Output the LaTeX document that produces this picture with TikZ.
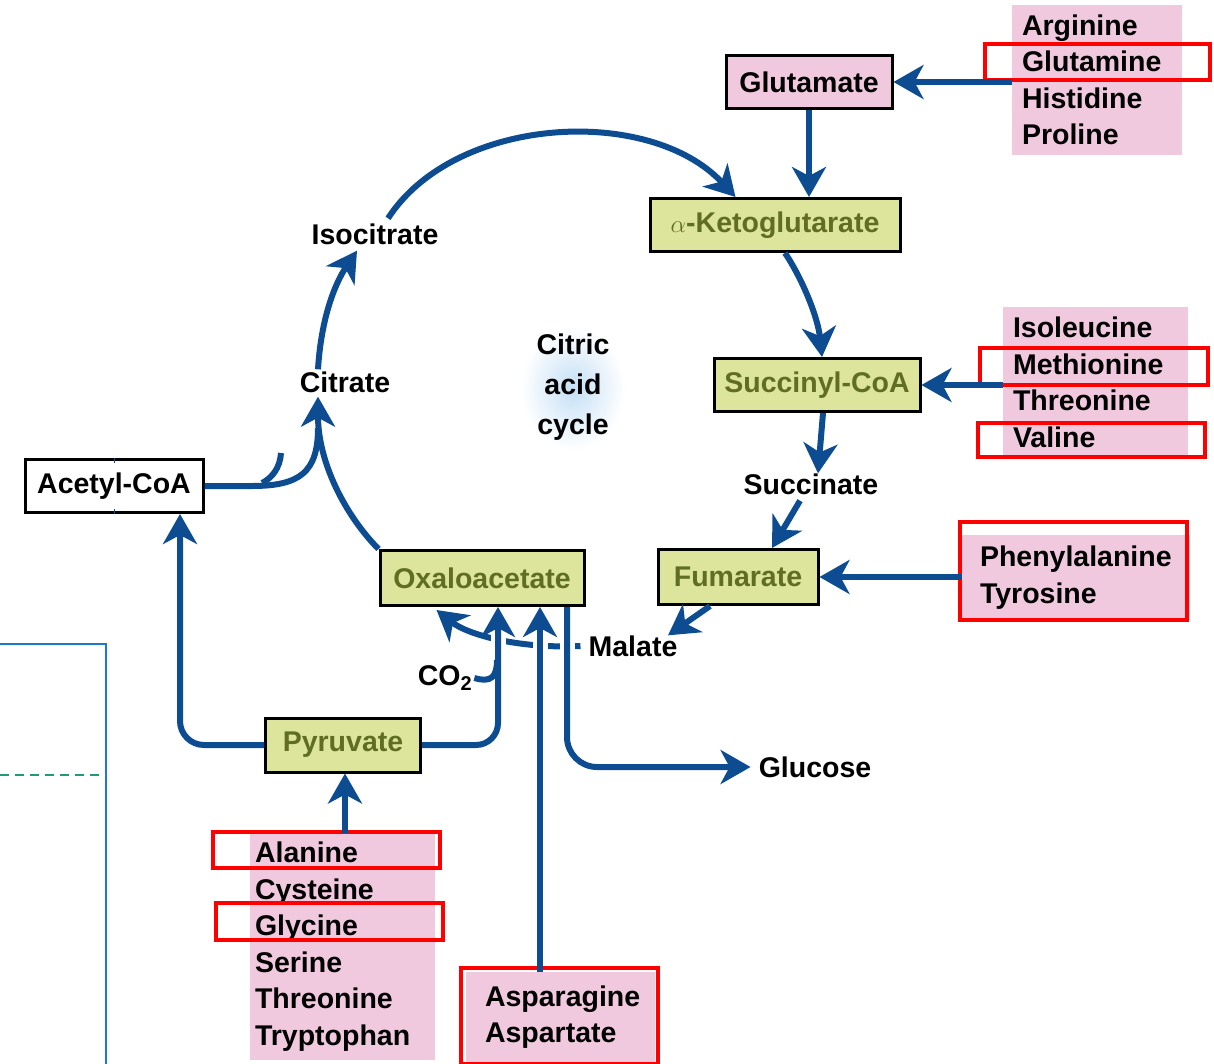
\documentclass[tikz,border=0pt]{standalone}
\usepackage{fontspec}
\setmainfont{Liberation Sans}
\usetikzlibrary{arrows.meta}
\definecolor{arr}{HTML}{0E4C92}
\definecolor{gfill}{HTML}{DDE49C}
\definecolor{gtext}{HTML}{5F6E22}
\definecolor{pfill}{HTML}{F0C9DE}
\definecolor{boxblue}{HTML}{1C7BC8}
\definecolor{dteal}{HTML}{1F9A7E}
\definecolor{glow}{HTML}{C4DFF5}
\tikzset{
  flow/.style={draw=arr, line width=6pt, -{Stealth[length=30pt,width=34pt,inset=9pt]}},
  plain/.style={draw=arr, line width=6pt},
  halo/.style={draw=white, line width=15pt},
  bigfont/.style={font=\bfseries\fontsize{28.5}{30}\selectfont},
  gbox/.style={bigfont, draw=black, line width=3pt, fill=gfill, text=gtext, inner sep=0pt},
  pbox/.style={bigfont, draw=black, line width=3pt, fill=pfill, text=black, inner sep=0pt},
  wbox/.style={bigfont, draw=black, line width=3pt, fill=white, text=black, inner sep=0pt},
  lbl/.style={bigfont, text=black, inner sep=2pt},
  aalist/.style={font=\bfseries\fontsize{28.5}{36.5}\selectfont, fill=pfill, align=left, inner ysep=0pt},
  redbox/.style={draw=red, line width=4pt},
}
\begin{document}
\begin{tikzpicture}[x=1pt,y=-1pt]
\useasboundingbox (0,0) rectangle (1214,1064);
\fill[white] (0,0) rectangle (1214,1064);

% left blue frame and dashed line
\draw[boxblue, line width=1.6pt] (0,644) -- (106,644) -- (106,1064);
\draw[dteal, line width=1.6pt, dash pattern=on 9pt off 6pt] (0,775) -- (106,775);

% glow
\shade[inner color=glow, outer color=white] (573,388) ellipse (52 and 62);

% boxes
\node[pbox, minimum width=166, minimum height=53] (glut) at (809,82) {Glutamate};
\node[gbox, minimum width=250, minimum height=53] (akg) at (775,225) {$\alpha$-Ketoglutarate};
\node[gbox, minimum width=206, minimum height=53] (succ) at (817,385) {Succinyl-CoA};
\node[gbox, minimum width=160, minimum height=55] (fum) at (738,577) {Fumarate};
\node[gbox, minimum width=204, minimum height=55] (oxa) at (482,578) {Oxaloacetate};
\node[gbox, minimum width=155, minimum height=54] (pyr) at (343,745) {Pyruvate};
\node[wbox, minimum width=178, minimum height=53] (acetyl) at (114,486) {Acetyl-CoA};

% plain labels
\node[lbl] (isocit) at (375,234) {Isocitrate};
\node[lbl] (citrate) at (345,382) {Citrate};
\node[lbl] (succinate) at (811,484) {Succinate};
\node[lbl] (malate) at (633,646) {Malate};
\node[lbl] (glucose) at (815,767) {Glucose};
\node[lbl] (co2) at (445,678) {CO\textsubscript{2}};
\node[font=\bfseries\fontsize{28.5}{40}\selectfont, align=center] (citric) at (573,387) {Citric\\acid\\cycle};

% amino acid lists
\node[aalist, minimum width=170, minimum height=150, inner xsep=10pt, text width=150] (l1) at (1097,80) {Arginine\\Glutamine\\Histidine\\Proline};
\node[aalist, minimum width=185, minimum height=151, inner xsep=10pt, text width=165] (l2) at (1095.5,382.5) {Isoleucine\\Methionine\\Threonine\\Valine};
\node[aalist, minimum width=228, minimum height=85, inner xsep=18pt, text width=192] (l3) at (1076,577.5) {Phenylalanine\\Tyrosine};
\node[aalist, minimum width=189, minimum height=90, inner xsep=19pt, text width=151] (l4) at (560.5,1017) {Asparagine\\Aspartate};
\node[aalist, minimum width=185, minimum height=227, inner xsep=5pt, text width=175] (l5) at (342.5,946.5) {Alanine\\Cysteine\\Glycine\\Serine\\Threonine\\Tryptophan};

% red highlight boxes
\draw[redbox] (985,44) rectangle (1210,80);
\draw[redbox] (980,348) rectangle (1208,385);
\draw[redbox] (978,423) rectangle (1205,457);
\draw[redbox] (960,522) rectangle (1187,620);
\draw[redbox] (213,832) rectangle (440,868);
\draw[redbox] (216,903) rectangle (443,940);
\draw[redbox] (461,968) rectangle (658,1064);

% cycle arrows
\draw[flow] (glut.east -| l1.west) -- (glut.east);
\draw[flow] (glut.south) -- (glut.south |- akg.north);
\draw[flow] ([xshift=13pt,yshift=3pt]isocit.north) .. controls (455,115) and (650,105) .. ([xshift=87pt]akg.north west);
\draw[flow] ([xshift=-27pt]citrate.north) .. controls (321,320) and (334,285) .. ([xshift=-18pt,yshift=-4pt]isocit.south);
\draw[flow] ([xshift=10pt]akg.south) .. controls (803,280) and (818,318) .. ([xshift=5pt]succ.north);
\draw[flow] (succ.east -| l2.west) -- (succ.east);
\draw[flow] ([xshift=6pt]succ.south) -- ([xshift=7pt,yshift=-2pt]succinate.north);
\draw[flow] ([xshift=-11pt,yshift=-4pt]succinate.south) -- ([xshift=34pt]fum.north);
\draw[flow] (fum.east -| l3.west) -- (fum.east);
\draw[flow] ([xshift=-28pt]fum.south) -- ([xshift=35pt,yshift=-2pt]malate.north);
\draw[flow] ([xshift=-6pt]malate.west) .. controls (520,649) and (468,635) .. ([xshift=58pt,yshift=-3pt]oxa.south west);
\draw[flow] (oxa.north west) .. controls (345,515) and (318,462) .. ([xshift=-27pt,yshift=-2pt]citrate.south);
\draw[plain] (acetyl.east) -- (252,486) .. controls (300,486) and (318,472) .. (318,428);
\draw[plain] (262,483) .. controls (272,478) and (280,468) .. (281,453);
\draw[arr, line width=0.8pt] (acetyl.north) -- ++(0,5);
\draw[arr, line width=0.8pt] (acetyl.south) -- ++(0,-5);

% halos where verticals cross the malate arc
\draw[halo] (498,625) -- (498,660);
\draw[halo] (540,625) -- (540,660);
\draw[halo] (567,625) -- (567,660);

% pyruvate / oxaloacetate connections
\draw[flow, rounded corners=24pt] (pyr.west) -| ([xshift=66pt]acetyl.south);
\draw[flow, rounded corners=22pt] (pyr.east) -| ([xshift=16pt]oxa.south);
\draw[flow, rounded corners=30pt] ([xshift=85pt]oxa.south) |- ([xshift=-6pt]glucose.west);
\draw[flow] ([xshift=-20.5pt]l4.north) -- ([xshift=58pt]oxa.south);
\draw[flow] ([xshift=2.5pt]l5.north) -- ([xshift=2pt]pyr.south);
\draw[plain] (co2.east) .. controls (491,683) and (497,677) .. (497,660);
\end{tikzpicture}
\end{document}
